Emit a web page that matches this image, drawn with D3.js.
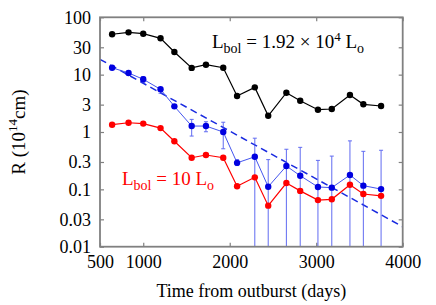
<!DOCTYPE html>
<html>
<head>
<meta charset="utf-8">
<script src="https://cdn.jsdelivr.net/npm/d3@7"></script>
<style>
  body { margin: 0; background: #fff; }
  svg text { font-family: "Liberation Serif", "DejaVu Serif", serif; }
</style>
</head>
<body>
<div id="chart"></div>
<script>
// values
const days = [640, 830, 1000, 1200, 1360, 1560, 1725, 1925, 2085, 2290, 2445, 2655, 2815, 3020, 3180, 3390, 3545, 3750];
const rHigh = [50.6, 54.7, 51.8, 43, 24.8, 13.1, 14.9, 13.2, 4.24, 6.0, 1.92, 4.84, 3.51, 2.45, 2.52, 4.42, 3.04, 2.84];
const rMid = [13.2, 10.7, 8.3, 5.55, 2.8, 1.27, 1.27, 1.0, 0.29, 0.37, 0.111, 0.255, 0.173, 0.11, 0.107, 0.178, 0.116, 0.101];
const rMidLo = [12.5, 10.1, 7.24, 4.73, 2.65, 0.85, 1.01, 0.51, 0.26, 0.001, 0.001, 0.001, 0.001, 0.001, 0.001, 0.001, 0.001, 0.001];
const rMidHi = [13.9, 11.3, 9.2, 5.92, 2.95, 1.66, 1.51, 1.48, 0.33, 0.78, 0.33, 0.50, 0.54, 0.32, 0.38, 0.70, 0.46, 0.48];
const rLow = [1.34, 1.45, 1.40, 1.17, 0.69, 0.356, 0.397, 0.356, 0.113, 0.162, 0.052, 0.129, 0.094, 0.065, 0.067, 0.12, 0.083, 0.077];
const fitDays = [500, 4000];
const fitR = [18.5, 0.0223];

const xTicks = [500, 1000, 2000, 3000, 4000];
const yTicks = [0.01, 0.03, 0.1, 0.3, 1, 3, 10, 30, 100];
const yTickLabels = ['0.01', '0.03', '0.1', '0.3', '1', '3', '10', '30', '100'];

const width = 436, height = 305;
const margin = { top: 17.3, right: 33.3, bottom: 58.3, left: 100 };

const svg = d3.select('#chart')
  .append('svg')
  .attr('width', width)
  .attr('height', height);

const x = d3.scaleLinear().domain([500, 4000]).range([margin.left, width - margin.right]);
const y = d3.scaleLog().domain([0.01, 100]).range([height - margin.bottom, margin.top]);

const frameColor = '#808080';

svg.append('clipPath').attr('id', 'plot')
  .append('rect')
  .attr('x', margin.left).attr('y', margin.top)
  .attr('width', x(4000) - x(500)).attr('height', y(0.01) - y(100));

// axes, ticks pointing inward
const axisB = svg.append('g')
  .attr('transform', `translate(0,${y(0.01)})`)
  .call(d3.axisBottom(x).tickValues(xTicks).tickSizeInner(-4).tickSizeOuter(0).tickPadding(9).tickFormat(d3.format('d')));
const axisT = svg.append('g')
  .attr('transform', `translate(0,${y(100)})`)
  .call(d3.axisTop(x).tickValues(xTicks).tickSizeInner(-4).tickSizeOuter(0).tickFormat(''));
const axisL = svg.append('g')
  .attr('transform', `translate(${x(500)},0)`)
  .call(d3.axisLeft(y).tickValues(yTicks).tickSizeInner(-4).tickSizeOuter(0).tickPadding(9)
    .tickFormat((d, i) => yTickLabels[i]));
const axisR = svg.append('g')
  .attr('transform', `translate(${x(4000)},0)`)
  .call(d3.axisRight(y).tickValues(yTicks).tickSizeInner(-4).tickSizeOuter(0).tickFormat(''));

[axisB, axisT, axisL, axisR].forEach(g => {
  g.select('.domain').remove();
  g.selectAll('line').attr('stroke', frameColor).attr('stroke-width', 1.2);
  g.selectAll('text').attr('font-size', 18).attr('fill', '#000')
    .style('font-family', '"Liberation Serif", serif');
});

const plot = svg.append('g').attr('clip-path', 'url(#plot)');

// dashed fit
plot.append('path')
  .datum(fitDays.map((d, i) => [d, fitR[i]]))
  .attr('fill', 'none')
  .attr('stroke', '#1a2be0')
  .attr('stroke-width', 1.5)
  .attr('stroke-dasharray', '7,4.5')
  .attr('d', d3.line().x(d => x(d[0])).y(d => y(d[1])));

// error bars on the middle series
const errColor = '#3a47ee';
const bars = plot.append('g').attr('stroke', errColor).attr('stroke-width', 1).attr('opacity', 0.8);
days.forEach((d, i) => {
  const cx = x(d);
  bars.append('line')
    .attr('x1', cx).attr('x2', cx)
    .attr('y1', y(rMidLo[i])).attr('y2', y(rMidHi[i]));
  bars.append('line')
    .attr('x1', cx - 2).attr('x2', cx + 2)
    .attr('y1', y(rMidHi[i])).attr('y2', y(rMidHi[i]));
  if (rMidLo[i] > 0.01) {
    bars.append('line')
      .attr('x1', cx - 2).attr('x2', cx + 2)
      .attr('y1', y(rMidLo[i])).attr('y2', y(rMidLo[i]));
  }
});

const series = [
  { values: rHigh, color: '#000000', line: '#000000', lw: 1.2 },
  { values: rMid, color: '#0000e0', line: '#4455ee', lw: 1 },
  { values: rLow, color: '#ff0000', line: '#ff0000', lw: 1.2 }
];

const line = d3.line().x(d => x(d[0])).y(d => y(d[1]));

series.forEach(s => {
  const pts = days.map((d, i) => [d, s.values[i]]);
  plot.append('path')
    .datum(pts)
    .attr('fill', 'none')
    .attr('stroke', s.line)
    .attr('stroke-width', s.lw)
    .attr('d', line);
  plot.append('g')
    .selectAll('circle')
    .data(pts)
    .enter()
    .append('circle')
    .attr('cx', d => x(d[0]))
    .attr('cy', d => y(d[1]))
    .attr('r', 3.2)
    .attr('fill', s.color);
});

// frame
svg.append('rect')
  .attr('x', x(500)).attr('y', y(100))
  .attr('width', x(4000) - x(500)).attr('height', y(0.01) - y(100))
  .attr('fill', 'none')
  .attr('stroke', frameColor)
  .attr('stroke-width', 1.8);

// annotations
const t1 = svg.append('text')
  .attr('x', 212).attr('y', 48)
  .attr('font-size', 19)
  .attr('fill', '#000');
t1.append('tspan').text('L');
t1.append('tspan').attr('font-size', 14).attr('dy', 5).text('bol');
t1.append('tspan').attr('dy', -5).text(' = 1.92 × 10');
t1.append('tspan').attr('font-size', 13).attr('dy', -7).text('4');
t1.append('tspan').attr('dy', 7).text(' L');
t1.append('tspan').attr('font-size', 14).attr('dy', 5).text('o');

const t2 = svg.append('text')
  .attr('x', 122).attr('y', 185)
  .attr('font-size', 19)
  .attr('fill', '#ff0000');
t2.append('tspan').text('L');
t2.append('tspan').attr('font-size', 14).attr('dy', 5).text('bol');
t2.append('tspan').attr('dy', -5).text(' = 10 L');
t2.append('tspan').attr('font-size', 14).attr('dy', 5).text('o');

// axis titles
svg.append('text')
  .attr('x', (x(500) + x(4000)) / 2)
  .attr('y', 297)
  .attr('text-anchor', 'middle')
  .attr('font-size', 18)
  .text('Time from outburst (days)');

const yl = svg.append('text')
  .attr('transform', 'translate(25,132) rotate(-90)')
  .attr('text-anchor', 'middle')
  .attr('font-size', 19);
yl.append('tspan').text('R (10');
yl.append('tspan').attr('font-size', 13).attr('dy', -8).text('14');
yl.append('tspan').attr('dy', 8).text('cm)');
</script>
</body>
</html>
